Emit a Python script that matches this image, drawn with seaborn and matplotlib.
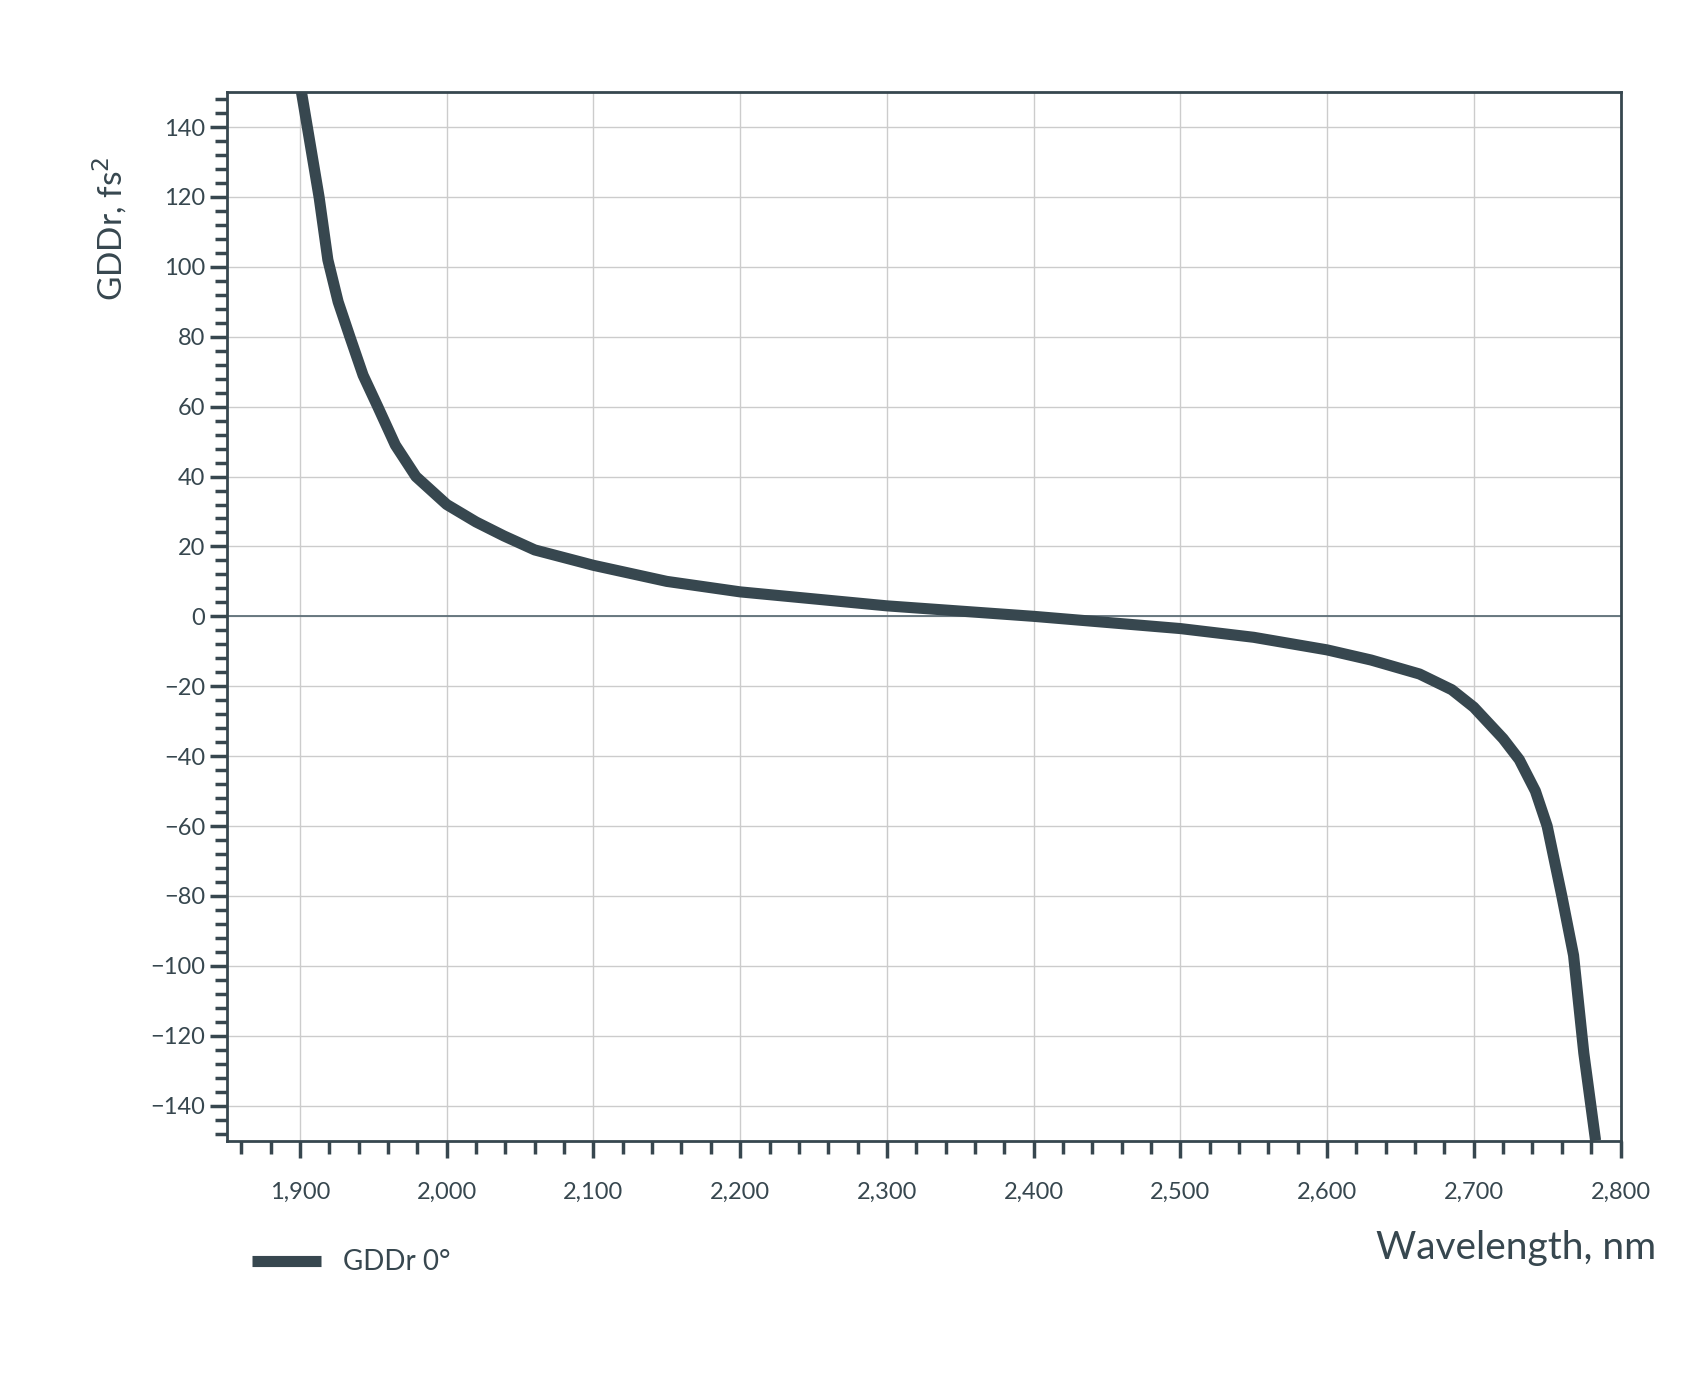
import matplotlib
matplotlib.use("Agg")
import matplotlib.pyplot as plt
import seaborn as sns
import pandas as pd
from matplotlib.ticker import MultipleLocator, FuncFormatter

wavelength = [1901, 1913, 1919, 1926, 1934, 1943, 1953, 1965, 1979, 2000, 2020, 2039, 2060,
              2100, 2150, 2200, 2300, 2400, 2500, 2550, 2600, 2630, 2663, 2685, 2700,
              2720, 2731, 2742, 2750, 2760, 2768, 2775, 2783]
gdd = [150, 120, 102, 90, 80, 69, 60, 49, 40, 32, 27, 23, 19,
       14.6, 10, 7, 3, 0, -3.5, -6, -9.6, -12.5, -16.5, -21, -26,
       -35, -41, -50, -60, -80, -97, -125, -150]
df = pd.DataFrame({"Wavelength": wavelength, "GDDr": gdd})

sns.set_theme(style="white")
plt.rcParams['font.family'] = ['Lato', 'DejaVu Sans']
col = "#37474f"

fig = plt.figure(figsize=(17.04, 13.96), dpi=100)
ax = fig.add_axes([0.133, 0.183, 0.818, 0.751])
ax.grid(True, color="#cccccc", linewidth=1)
ax.axhline(0, color="#5f6f78", linewidth=1.3, zorder=1)
sns.lineplot(data=df, x="Wavelength", y="GDDr", color=col, linewidth=8, ax=ax,
             label="GDDr 0°", zorder=3, solid_joinstyle="round", solid_capstyle="butt")
ax.set_xlim(1850, 2800)
ax.set_ylim(-150, 150)
ax.xaxis.set_major_locator(MultipleLocator(100))
ax.xaxis.set_minor_locator(MultipleLocator(20))
ax.yaxis.set_major_locator(MultipleLocator(20))
ax.yaxis.set_minor_locator(MultipleLocator(4))
ax.xaxis.set_major_formatter(FuncFormatter(lambda v, p: f"{int(v):,}"))
ax.yaxis.set_major_formatter(FuncFormatter(lambda v, p: f"{int(v)}".replace("-", "−")))
ax.tick_params(axis="both", which="both", direction="out", color=col, width=2.5,
               labelsize=17, labelcolor=col, bottom=True, left=True)
ax.tick_params(which="major", length=12)
ax.tick_params(which="minor", length=9)
ax.tick_params(axis="x", which="major", pad=18)
for s in ax.spines.values():
    s.set_color(col); s.set_linewidth(2)
ax.set_xlabel("")
ax.set_ylabel("GDDr, fs$^2$", fontsize=24, color=col)
ax.yaxis.set_label_coords(-0.07, 0.87)
fig.text(0.972, 0.106, "Wavelength, nm", fontsize=28, color=col, ha="right", va="center")
leg = ax.legend(loc="upper left", bbox_to_anchor=(0.0, -0.08), frameon=False,
                fontsize=20, handlelength=2.5)
for t in leg.get_texts():
    t.set_color(col)
fig.savefig("out.png", dpi=100)
